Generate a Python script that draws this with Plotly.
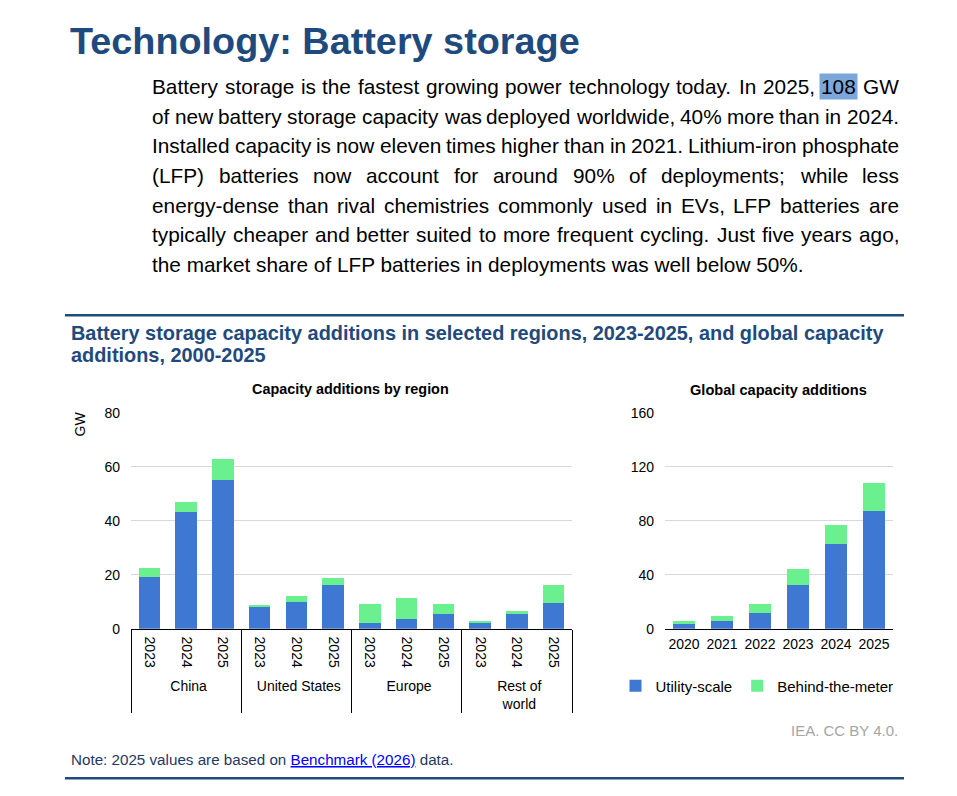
import plotly.graph_objects as go

# ---------------- data ----------------
regions = ["China", "United States", "Europe", "Rest of<br>world"]
region_years = ["2023", "2024", "2025"]
utility_region = [19.2, 43.2, 55.0, 7.9, 10.1, 16.1, 2.2, 3.8, 5.3, 2.1, 5.3, 9.6]
btm_region = [3.3, 3.7, 8.0, 0.8, 1.9, 2.7, 7.0, 7.6, 3.9, 0.9, 1.2, 6.6]

global_years = ["2020", "2021", "2022", "2023", "2024", "2025"]
utility_global = [3.9, 6.0, 11.8, 32.1, 63.1, 87.0]
btm_global = [2.1, 3.7, 6.6, 12.1, 14.2, 20.8]

left_ticks = [0, 20, 40, 60, 80]
right_ticks = [0, 40, 80, 120, 160]

paragraph = [
    "Battery storage is the fastest growing power technology today. In 2025, 108 GW",
    "of new battery storage capacity was deployed worldwide, 40% more than in 2024.",
    "Installed capacity is now eleven times higher than in 2021. Lithium-iron phosphate",
    "(LFP) batteries now account for around 90% of deployments; while less",
    "energy-dense than rival chemistries commonly used in EVs, LFP batteries are",
    "typically cheaper and better suited to more frequent cycling. Just five years ago,",
    "the market share of LFP batteries in deployments was well below 50%.",
]

# ---------------- style ----------------
W, H = 957, 796
FONT = "Liberation Sans, Arial, sans-serif"
NAVY = "#1F4A7D"
BLUE = "#3F78D2"
GREEN = "#6AF08E"
GRID = "#D9D9D9"


def px(x):
    return x / W


def py(y):
    return 1 - y / H


AW = {" ": 278, "!": 278, "%": 889, "(": 333, ")": 333, ",": 278, "-": 333, ".": 278,
      ":": 278, ";": 278, "A": 667, "B": 667, "C": 722, "D": 722, "E": 667, "F": 611,
      "G": 778, "H": 722, "I": 278, "J": 500, "K": 667, "L": 556, "M": 833, "N": 722,
      "O": 778, "P": 667, "Q": 778, "R": 722, "S": 667, "T": 611, "U": 722, "V": 667,
      "W": 944, "X": 667, "Y": 667, "Z": 611, "a": 556, "b": 556, "c": 500, "d": 556,
      "e": 556, "f": 278, "g": 556, "h": 556, "i": 222, "j": 222, "k": 500, "l": 222,
      "m": 833, "n": 556, "o": 556, "p": 556, "q": 556, "r": 333, "s": 500, "t": 278,
      "u": 556, "v": 500, "w": 722, "x": 500, "y": 500, "z": 500}


def tw(s, fs):
    return sum(AW.get(c, 556) for c in s) * fs / 1000.0


def ann(text, x, y, size, color="#000000", xanchor="left", **kw):
    d = dict(text=text, x=px(x), y=py(y), xref="paper", yref="paper",
             xanchor=xanchor, yanchor="middle", showarrow=False,
             font=dict(family=FONT, size=size, color=color))
    d.update(kw)
    return d


x_multi = [[r for r in regions for _ in region_years], region_years * len(regions)]

fig = go.Figure()
fig.add_trace(go.Bar(x=x_multi, y=utility_region, name="Utility-scale", marker_color=BLUE,
                     marker_line_width=0, showlegend=False, legendgroup="u",
                     xaxis="x", yaxis="y"))
fig.add_trace(go.Bar(x=x_multi, y=btm_region, name="Behind-the-meter", marker_color=GREEN,
                     marker_line_width=0, showlegend=False, legendgroup="b",
                     xaxis="x", yaxis="y"))
fig.add_trace(go.Bar(x=global_years, y=utility_global, name="Utility-scale", marker_color=BLUE,
                     marker_line_width=0, legendgroup="u", xaxis="x2", yaxis="y2"))
fig.add_trace(go.Bar(x=global_years, y=btm_global, name="Behind-the-meter", marker_color=GREEN,
                     marker_line_width=0, legendgroup="b", xaxis="x2", yaxis="y2"))

ydom = [py(633.5), py(413.3)]
tickfont = dict(family=FONT, size=14, color="#000000")

fig.update_layout(
    width=W, height=H, autosize=False,
    margin=dict(l=0, r=0, t=0, b=0),
    paper_bgcolor="white", plot_bgcolor="white",
    font=dict(family=FONT, size=14, color="#000000"),
    barmode="stack", bargap=0.41,
    xaxis=dict(domain=[px(131), px(572)], type="multicategory", tickangle=90,
               showline=True, linecolor="#000000", linewidth=1,
               showdividers=True, dividercolor="#000000", dividerwidth=1,
               ticks="", ticklabelstandoff=4, tickfont=tickfont, showgrid=False,
               anchor="y"),
    yaxis=dict(domain=ydom, range=[0, 80], tickvals=left_ticks, showgrid=True,
               gridcolor=GRID, gridwidth=1, zeroline=False, showline=False,
               ticks="", ticklabelstandoff=10, tickfont=tickfont, anchor="x"),
    xaxis2=dict(domain=[px(665), px(893)], type="category", showline=True,
                linecolor="#000000", linewidth=1, ticks="", ticklabelstandoff=2,
                tickfont=tickfont, showgrid=False, anchor="y2"),
    yaxis2=dict(domain=ydom, range=[0, 160], tickvals=right_ticks, showgrid=True,
                gridcolor=GRID, gridwidth=1, zeroline=False, showline=False,
                ticks="", ticklabelstandoff=10, tickfont=tickfont, anchor="x2"),
    legend=dict(orientation="h", x=px(757), xanchor="center", y=py(692), yanchor="middle",
                font=dict(family=FONT, size=15, color="#000000"), itemwidth=30,
                traceorder="normal", bgcolor="rgba(0,0,0,0)"),
)

anns = []
anns.append(ann("<b>Technology: Battery storage</b>", 68, 34, 37.8, NAVY))

# justified paragraph (all lines but the last), word by word
FS = 20.8
x0, x1 = 150, 897
for i, line in enumerate(paragraph):
    yc = 80 + i * 30.3
    if i == len(paragraph) - 1:
        anns.append(ann(line, x0, yc, FS))
        continue
    words = line.split(" ")
    widths = [tw(w, FS) for w in words]
    gap = (x1 - x0 - sum(widths)) / (len(words) - 1)
    cx = x0
    for w, wd in zip(words, widths):
        if w == "108":
            anns.append(ann(w, cx - 1, yc, FS, bgcolor="#7BA7DA", borderpad=1))
        else:
            anns.append(ann(w, cx, yc, FS))
        cx += wd + gap

anns.append(ann("<b>Battery storage capacity additions in selected regions, 2023-2025, and global capacity</b>",
                69, 332, 19.9, NAVY))
anns.append(ann("<b>additions, 2000-2025</b>", 69, 354, 19.9, NAVY))
anns.append(ann("<b>Capacity additions by region</b>", 350, 389, 14.4, xanchor="center"))
anns.append(ann("<b>Global capacity additions</b>", 778, 390, 14.6, xanchor="center"))
anns.append(ann("GW", 80, 425, 14, xanchor="center", textangle=-90))
anns.append(ann("IEA. CC BY 4.0.", 900, 737, 15, "#A6A6A6", xanchor="right"))
anns.append(ann("Note: 2025 values are based on <span style='color:#0000FF'><u>Benchmark (2026)</u></span> data.",
                69, 767, 15.2, "#1F3864"))

fig.update_layout(annotations=anns)

fig.update_layout(shapes=[
    dict(type="line", xref="paper", yref="paper", x0=px(65), x1=px(904), y0=py(313.5), y1=py(313.5),
         line=dict(color=NAVY, width=2.5)),
    dict(type="line", xref="paper", yref="paper", x0=px(65), x1=px(904), y0=py(786), y1=py(786),
         line=dict(color=NAVY, width=2.5)),
])

fig.write_html("out.html", config={"displayModeBar": False},
               post_script="document.body.style.margin='0';")
